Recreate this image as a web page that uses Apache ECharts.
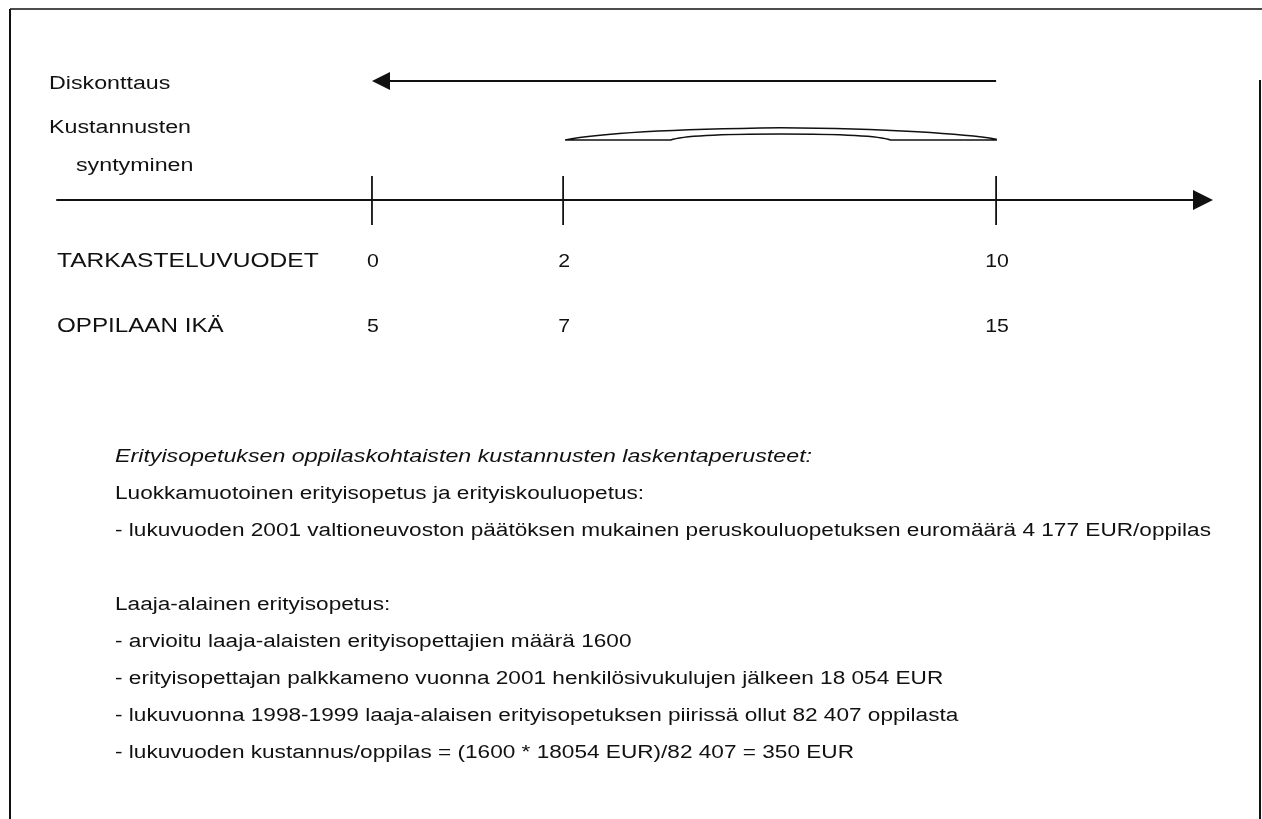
<!DOCTYPE html>
<html>
<head>
<meta charset="utf-8">
<script src="https://cdn.jsdelivr.net/npm/echarts@6/dist/echarts.min.js"></script>
<style>
html,body{margin:0;padding:0;background:#fff;}
#chart{width:1262px;height:819px;}
</style>
</head>
<body>
<div id="chart"></div>
<script>
// ---------- data ----------
const rowLabels = ['TARKASTELUVUODET', 'OPPILAAN IKÄ'];
const years = [0, 2, 10];          // tarkasteluvuodet
const ages = [5, 7, 15];           // oppilaan ikä
const discountSpanYears = [10, 0]; // Diskonttaus: from year 10 back to year 0
const costSpanYears = [2, 10];     // Kustannusten syntyminen
const topLabels = ['Diskonttaus', 'Kustannusten', 'syntyminen'];
const noteTitle = 'Erityisopetuksen oppilaskohtaisten kustannusten laskentaperusteet:';
const noteLines = [
  'Luokkamuotoinen erityisopetus ja erityiskouluopetus:',
  '- lukuvuoden 2001 valtioneuvoston päätöksen mukainen peruskouluopetuksen euromäärä 4 177 EUR/oppilas',
  '',
  'Laaja-alainen erityisopetus:',
  '- arvioitu laaja-alaisten erityisopettajien määrä 1600',
  '- erityisopettajan palkkameno vuonna 2001 henkilösivukulujen jälkeen 18 054 EUR',
  '- lukuvuonna 1998-1999 laaja-alaisen erityisopetuksen piirissä ollut 82 407 oppilasta',
  '- lukuvuoden kustannus/oppilas = (1600 * 18054 EUR)/82 407 = 350 EUR'
];

// ---------- layout (pixels / offsets from the time line) ----------
const FONT = '"Liberation Sans", Arial, Helvetica, sans-serif';
const INK = '#111';
const L = {
  tickTop: -24, tickBottom: 25,
  yearRow: 62, ageRow: 127,
  discountY: -119,
  braceBase: -60,
  rowLabelX: 57,
  noteX: 115, noteY: 457, noteStep: 37
};
const ageOfYear = y => ages[years.indexOf(y)];

const chart = echarts.init(document.getElementById('chart'), null, {renderer: 'canvas'});

function txt(text, x, y, font, sx) {
  return {
    type: 'text', x: x, y: y, scaleX: sx,
    style: {text: text, fill: INK, font: font, align: 'left', verticalAlign: 'middle'}
  };
}

const graphics = [
  // frame
  {type: 'line', shape: {x1: 10, y1: 9, x2: 1262, y2: 9}, style: {stroke: '#111', lineWidth: 1.5}},
  {type: 'line', shape: {x1: 10, y1: 9, x2: 10, y2: 819}, style: {stroke: '#111', lineWidth: 2}},
  {type: 'line', shape: {x1: 1260, y1: 80, x2: 1260, y2: 819}, style: {stroke: '#111', lineWidth: 2}},
  txt(topLabels[0], 49, 84, '18px ' + FONT, 1.29),
  txt(topLabels[1], 49, 128, '18px ' + FONT, 1.29),
  txt(topLabels[2], 76, 166, '18px ' + FONT, 1.29),
  txt(rowLabels[0], L.rowLabelX, 262, '19.5px ' + FONT, 1.26),
  txt(rowLabels[1], L.rowLabelX, 327, '19.5px ' + FONT, 1.24),
  txt(noteTitle, L.noteX, L.noteY, 'italic 18px ' + FONT, 1.29)
];
noteLines.forEach(function (line, i) {
  if (line) graphics.push(txt(line, L.noteX, L.noteY + L.noteStep * (i + 1), '18px ' + FONT, 1.256));
});

const option = {
  backgroundColor: '#fff',
  animation: false,
  grid: {left: 57, right: 59, top: 0, bottom: 0},
  xAxis: {
    type: 'log', logBase: 10, min: 2.872, max: 21.59,
    axisLine: {show: true, onZero: true, symbol: ['none', 'triangle'], symbolSize: [20, 20],
               lineStyle: {color: INK, width: 2}},
    axisTick: {show: false}, axisLabel: {show: false}, splitLine: {show: false}
  },
  yAxis: {
    type: 'value', min: -200, max: 619, inverse: true, show: false,
    axisLine: {show: false}, splitLine: {show: false}
  },
  graphic: graphics,
  series: [
    {
      type: 'custom', name: 'ticks', clip: false,
      data: ages.map((a, i) => [a, years[i]]),
      renderItem: function (params, api) {
        const age = api.value(0), yr = api.value(1);
        const t = api.coord([age, L.tickTop]), b = api.coord([age, L.tickBottom]);
        const yr1 = api.coord([age, L.yearRow]), ag = api.coord([age, L.ageRow]);
        const st = {fill: INK, font: '19px ' + FONT, align: 'center', verticalAlign: 'middle'};
        return {type: 'group', children: [
          {type: 'line', shape: {x1: t[0], y1: t[1], x2: b[0], y2: b[1]}, style: {stroke: INK, lineWidth: 1.8}},
          {type: 'text', x: yr1[0] + 1, y: yr1[1], scaleX: 1.12, style: Object.assign({text: String(yr)}, st)},
          {type: 'text', x: ag[0] + 1, y: ag[1], scaleX: 1.12, style: Object.assign({text: String(age)}, st)}
        ]};
      }
    },
    {
      type: 'custom', name: 'Diskonttaus', clip: false,
      data: [[ageOfYear(discountSpanYears[0]), ageOfYear(discountSpanYears[1])]],
      renderItem: function (params, api) {
        const p0 = api.coord([api.value(0), L.discountY]);
        const p1 = api.coord([api.value(1), L.discountY]);
        const dir = p1[0] < p0[0] ? -1 : 1, head = 18, half = 9;
        return {type: 'group', children: [
          {type: 'line', shape: {x1: p0[0], y1: p0[1], x2: p1[0] - dir * head, y2: p1[1]}, style: {stroke: INK, lineWidth: 2}},
          {type: 'polygon', shape: {points: [[p1[0], p1[1]], [p1[0] - dir * head, p1[1] - half], [p1[0] - dir * head, p1[1] + half]]},
           style: {fill: INK}}
        ]};
      }
    },
    {
      type: 'custom', name: 'Kustannusten syntyminen', clip: false,
      data: [[ageOfYear(costSpanYears[0]), ageOfYear(costSpanYears[1])]],
      renderItem: function (params, api) {
        const a = api.coord([api.value(0), L.braceBase]);
        const b = api.coord([api.value(1), L.braceBase]);
        const x0 = a[0] + 2, x1 = b[0], yb = a[1], w = x1 - x0;
        const X = f => (x0 + f * w).toFixed(1);
        const Y = d => (yb - d).toFixed(1);
        const d = 'M' + X(0) + ' ' + Y(0) +
          ' C' + X(0.08) + ' ' + Y(7) + ' ' + X(0.25) + ' ' + Y(11) + ' ' + X(0.5) + ' ' + Y(12.3) +
          ' C' + X(0.75) + ' ' + Y(11.5) + ' ' + X(0.93) + ' ' + Y(6) + ' ' + X(1) + ' ' + Y(0.8) +
          ' L' + X(1) + ' ' + Y(0) +
          ' L' + X(0.755) + ' ' + Y(0) +
          ' C' + X(0.73) + ' ' + Y(4) + ' ' + X(0.62) + ' ' + Y(6) + ' ' + X(0.5) + ' ' + Y(6) +
          ' C' + X(0.38) + ' ' + Y(6) + ' ' + X(0.27) + ' ' + Y(4) + ' ' + X(0.245) + ' ' + Y(0) +
          ' Z';
        return {type: 'path', shape: {pathData: d}, style: {fill: '#fff', stroke: INK, lineWidth: 1.6}};
      }
    }
  ]
};
chart.setOption(option);
</script>
</body>
</html>
